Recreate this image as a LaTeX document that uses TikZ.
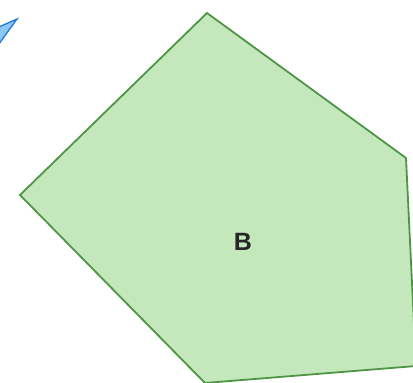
\documentclass[tikz,border=0pt]{standalone}
\usepackage{fontspec}
\setmainfont{Liberation Sans}
\definecolor{polyfill}{RGB}{196,232,188}
\definecolor{polyedge}{RGB}{78,150,70}
\definecolor{arrowblue}{RGB}{30,120,215}
\definecolor{arrowfill}{RGB}{140,200,245}
\tikzset{
  poly/.style={fill=polyfill,draw=polyedge,line width=1.8pt,line join=miter},
  lbl/.style={font=\bfseries\fontsize{25}{30}\selectfont,text=black!85},
  bluehead/.style={fill=arrowfill,draw=arrowblue,line width=1.3pt,line join=miter}
}
\begin{document}
\begin{tikzpicture}[x=1pt,y=-1pt]
\useasboundingbox (0,0) rectangle (413,383);
\begin{scope}
\clip (0,0) rectangle (413,383);
\coordinate (top) at (207,13);
\coordinate (rt) at (406,158);
\coordinate (rb) at (416,366);
\coordinate (bl) at (205,383);
\coordinate (lf) at (20,195);
\draw[poly] (top) -- (rt) -- (rb) -- (bl) -- (lf) -- cycle;
\coordinate (atip) at (17,19);
\coordinate (awa) at (-8,30);
\coordinate (anotch) at (-3,36);
\coordinate (awb) at (-4,48);
\draw[bluehead] (atip) -- (awa) -- (anotch) -- (awb) -- cycle;
\end{scope}
\node[lbl] (B) at (243,242) {B};
\end{tikzpicture}
\end{document}
